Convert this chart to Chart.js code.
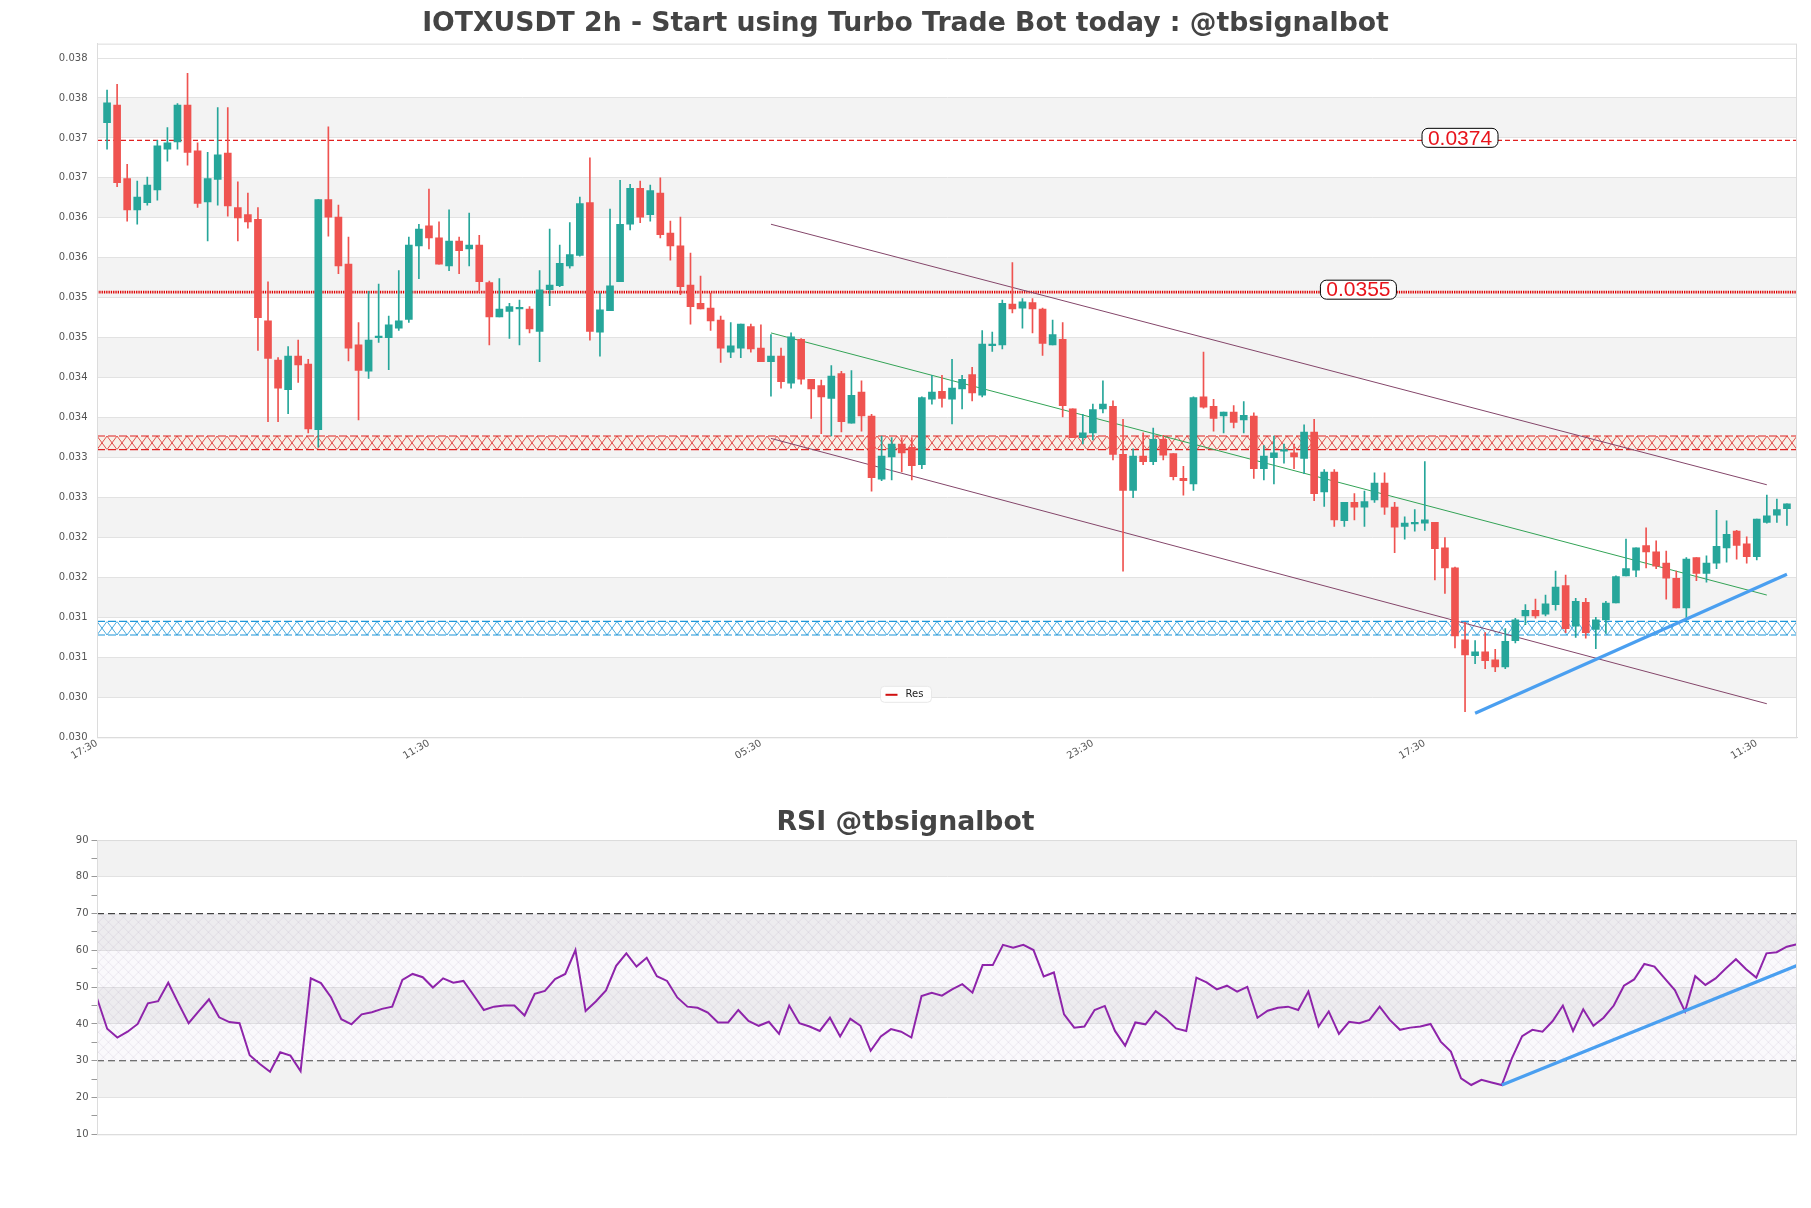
<!DOCTYPE html>
<html>
<head>
<meta charset="utf-8">
<script src="https://cdn.jsdelivr.net/npm/chart.js@4.4.1/dist/chart.umd.min.js"></script>
<style>
  html, body { margin: 0; padding: 0; background: #fff; }
  .box { position: absolute; left: 0; width: 1811px; }
</style>
</head>
<body>
<div class="box" style="top:0;height:790px"><canvas id="main" width="1811" height="790"></canvas></div>
<div class="box" style="top:790px;height:418px"><canvas id="rsi" width="1811" height="418"></canvas></div>
<script>
// time axis labels (every 33 candles of 2h)
var timeTicks = [0, 33, 66, 99, 132, 165];
var timeLabels = ['17:30', '11:30', '05:30', '23:30', '17:30', '11:30'];

// price axis ticks
var priceTicks = [0.02993, 0.03043, 0.03093, 0.03143, 0.03193, 0.03243, 0.03293, 0.03343, 0.03393,
  0.03443, 0.03493, 0.03543, 0.03593, 0.03643, 0.03693, 0.03743, 0.03793, 0.03843];

// OHLC, one entry per 2h candle
var openP = [0.03762,0.03784,0.03692,0.03653,0.03662,0.03678,0.03729,0.03738,0.03784,0.03727,
  0.03663,0.03691,0.03724,0.03656,0.03647,0.03641,0.03514,0.03465,0.03428,0.03470,
  0.03460,0.03378,0.03666,0.03644,0.03585,0.03484,0.03451,0.03493,0.03493,0.03505,
  0.03516,0.03608,0.03633,0.03618,0.03583,0.03614,0.03604,0.03609,0.03562,0.03519,
  0.03526,0.03529,0.03529,0.03501,0.03553,0.03558,0.03583,0.03596,0.03662,0.03500,
  0.03527,0.03563,0.03635,0.03680,0.03647,0.03674,0.03624,0.03608,0.03559,0.03536,
  0.03530,0.03515,0.03475,0.03480,0.03507,0.03480,0.03463,0.03470,0.03436,0.03491,
  0.03441,0.03433,0.03417,0.03448,0.03386,0.03425,0.03395,0.03316,0.03344,0.03360,
  0.03356,0.03334,0.03416,0.03426,0.03416,0.03429,0.03447,0.03421,0.03483,0.03484,
  0.03535,0.03530,0.03537,0.03529,0.03484,0.03491,0.03404,0.03368,0.03374,0.03404,
  0.03407,0.03347,0.03302,0.03345,0.03338,0.03366,0.03348,0.03317,0.03310,0.03419,
  0.03407,0.03395,0.03400,0.03390,0.03395,0.03329,0.03343,0.03351,0.03349,0.03342,
  0.03375,0.03300,0.03325,0.03264,0.03287,0.03281,0.03290,0.03311,0.03281,0.03257,
  0.03260,0.03261,0.03262,0.03230,0.03205,0.03115,0.03095,0.03100,0.03090,0.03081,
  0.03114,0.03145,0.03152,0.03147,0.03159,0.03183,0.03132,0.03162,0.03128,0.03140,
  0.03161,0.03195,0.03202,0.03233,0.03225,0.03211,0.03192,0.03155,0.03218,0.03198,
  0.03211,0.03230,0.03251,0.03235,0.03219,0.03262,0.03271,0.03279];
var highP = [0.03803,0.03810,0.03710,0.03689,0.03694,0.03740,0.03756,0.03786,0.03824,0.03737,
  0.03725,0.03781,0.03781,0.03688,0.03674,0.03656,0.03563,0.03468,0.03482,0.03490,
  0.03466,0.03666,0.03757,0.03659,0.03619,0.03512,0.03551,0.03560,0.03520,0.03577,
  0.03619,0.03635,0.03679,0.03638,0.03653,0.03619,0.03649,0.03621,0.03564,0.03567,
  0.03536,0.03540,0.03532,0.03577,0.03629,0.03609,0.03637,0.03669,0.03718,0.03549,
  0.03654,0.03690,0.03685,0.03689,0.03684,0.03693,0.03639,0.03644,0.03599,0.03570,
  0.03549,0.03520,0.03512,0.03510,0.03510,0.03509,0.03497,0.03480,0.03499,0.03492,
  0.03441,0.03440,0.03458,0.03451,0.03452,0.03439,0.03397,0.03370,0.03368,0.03368,
  0.03368,0.03419,0.03446,0.03446,0.03466,0.03446,0.03456,0.03502,0.03500,0.03540,
  0.03587,0.03542,0.03542,0.03530,0.03515,0.03512,0.03404,0.03397,0.03410,0.03439,
  0.03414,0.03391,0.03354,0.03374,0.03380,0.03371,0.03348,0.03332,0.03419,0.03475,
  0.03416,0.03400,0.03408,0.03413,0.03399,0.03358,0.03370,0.03360,0.03360,0.03384,
  0.03391,0.03328,0.03328,0.03287,0.03298,0.03301,0.03324,0.03324,0.03287,0.03269,
  0.03278,0.03338,0.03262,0.03243,0.03206,0.03137,0.03114,0.03124,0.03103,0.03129,
  0.03142,0.03159,0.03166,0.03171,0.03201,0.03196,0.03167,0.03167,0.03143,0.03163,
  0.03195,0.03241,0.03230,0.03255,0.03239,0.03226,0.03201,0.03218,0.03218,0.03220,
  0.03277,0.03264,0.03252,0.03244,0.03266,0.03296,0.03291,0.03285];
var lowP = [0.03729,0.03682,0.03639,0.03635,0.03659,0.03665,0.03714,0.03729,0.03709,0.03656,
  0.03614,0.03659,0.03645,0.03614,0.03630,0.03477,0.03388,0.03388,0.03398,0.03437,
  0.03374,0.03356,0.03620,0.03573,0.03464,0.03390,0.03442,0.03487,0.03453,0.03502,
  0.03512,0.03567,0.03604,0.03585,0.03577,0.03573,0.03583,0.03550,0.03484,0.03519,
  0.03492,0.03484,0.03499,0.03463,0.03533,0.03557,0.03580,0.03595,0.03490,0.03470,
  0.03527,0.03563,0.03628,0.03637,0.03639,0.03618,0.03590,0.03547,0.03510,0.03529,
  0.03502,0.03462,0.03468,0.03468,0.03475,0.03463,0.03420,0.03430,0.03430,0.03435,
  0.03392,0.03373,0.03370,0.03375,0.03386,0.03376,0.03301,0.03314,0.03315,0.03325,
  0.03315,0.03329,0.03410,0.03406,0.03385,0.03404,0.03414,0.03419,0.03476,0.03479,
  0.03524,0.03505,0.03499,0.03471,0.03484,0.03394,0.03368,0.03360,0.03365,0.03399,
  0.03340,0.03201,0.03293,0.03334,0.03334,0.03340,0.03315,0.03296,0.03302,0.03405,
  0.03376,0.03374,0.03380,0.03374,0.03317,0.03315,0.03310,0.03336,0.03329,0.03323,
  0.03289,0.03282,0.03257,0.03257,0.03265,0.03257,0.03287,0.03272,0.03224,0.03241,
  0.03251,0.03252,0.03190,0.03173,0.03105,0.03025,0.03085,0.03079,0.03075,0.03079,
  0.03111,0.03134,0.03142,0.03145,0.03152,0.03124,0.03118,0.03117,0.03104,0.03123,
  0.03161,0.03195,0.03194,0.03205,0.03204,0.03166,0.03155,0.03139,0.03189,0.03187,
  0.03204,0.03212,0.03216,0.03211,0.03215,0.03261,0.03262,0.03258];
var closeP = [0.03787,0.03687,0.03653,0.03669,0.03684,0.03733,0.03737,0.03784,0.03725,0.03661,
  0.03692,0.03722,0.03658,0.03643,0.03638,0.03518,0.03467,0.03430,0.03470,0.03459,
  0.03379,0.03666,0.03644,0.03583,0.03480,0.03452,0.03490,0.03495,0.03509,0.03514,
  0.03609,0.03629,0.03618,0.03585,0.03614,0.03602,0.03609,0.03563,0.03519,0.03529,
  0.03532,0.03531,0.03504,0.03553,0.03559,0.03586,0.03597,0.03661,0.03501,0.03528,
  0.03558,0.03635,0.03680,0.03644,0.03677,0.03622,0.03608,0.03557,0.03532,0.03529,
  0.03514,0.03480,0.03483,0.03510,0.03479,0.03463,0.03470,0.03438,0.03494,0.03441,
  0.03429,0.03419,0.03445,0.03388,0.03421,0.03395,0.03318,0.03345,0.03360,0.03349,
  0.03333,0.03418,0.03425,0.03417,0.03430,0.03441,0.03424,0.03485,0.03485,0.03536,
  0.03529,0.03538,0.03529,0.03486,0.03497,0.03408,0.03368,0.03374,0.03403,0.03410,
  0.03347,0.03302,0.03345,0.03338,0.03366,0.03346,0.03319,0.03314,0.03418,0.03406,
  0.03392,0.03400,0.03387,0.03396,0.03329,0.03345,0.03349,0.03353,0.03344,0.03375,
  0.03298,0.03325,0.03265,0.03287,0.03281,0.03288,0.03311,0.03281,0.03256,0.03261,
  0.03262,0.03265,0.03229,0.03205,0.03120,0.03096,0.03100,0.03089,0.03081,0.03113,
  0.03140,0.03152,0.03145,0.03160,0.03181,0.03129,0.03163,0.03124,0.03140,0.03161,
  0.03194,0.03204,0.03230,0.03225,0.03207,0.03192,0.03155,0.03216,0.03198,0.03211,
  0.03232,0.03247,0.03233,0.03219,0.03266,0.03270,0.03278,0.03285];

// horizontal levels and zones
var levelValues = [0.0374, 0.0355];
var levelLabelAt = [135.5, 125.4];
var resZone = [0.03353, 0.03370];
var supZone = [0.03121, 0.03138];

// drawn trend lines: [x, y] pairs in candle index / price
var channelUpper = [[67, 0.03635], [166, 0.03309]];
var channelLower = [[67, 0.03367], [166, 0.03035]];
var channelMid = [[67, 0.03499], [166, 0.03171]];
var supportLine = [[137, 0.03023], [168, 0.03197]];

// RSI, one value per candle
var rsiValues = [47.0,38.7,36.3,37.9,40.0,45.6,46.2,51.2,45.6,40.2,
  43.5,46.7,41.8,40.5,40.2,31.5,29.1,27.0,32.3,31.4,
  27.2,52.4,51.1,47.2,41.3,39.9,42.6,43.2,44.1,44.7,
  52.0,53.6,52.7,49.9,52.4,51.2,51.7,47.8,43.8,44.7,
  45.0,45.0,42.3,48.2,49.0,52.2,53.6,60.1,43.5,46.1,
  49.1,55.8,59.2,55.6,58.0,53.0,51.7,47.2,44.7,44.4,
  43.1,40.4,40.4,43.8,40.8,39.5,40.6,37.3,45.0,40.2,
  39.3,38.1,41.7,36.6,41.4,39.5,32.7,36.6,38.6,37.9,
  36.3,47.6,48.5,47.7,49.4,50.8,48.5,56.0,56.0,61.5,
  60.7,61.5,60.1,52.9,54.0,42.6,39.0,39.3,43.8,44.9,
  38.1,34.1,40.4,39.9,43.5,41.4,38.8,38.1,52.6,51.3,
  49.4,50.4,48.8,50.1,41.7,43.6,44.4,44.7,43.8,48.8,
  39.3,43.4,37.3,40.6,40.2,41.1,44.7,41.1,38.4,39.0,
  39.3,40.0,35.2,32.5,25.2,23.4,24.8,24.1,23.4,30.7,
  36.7,38.4,37.9,40.8,45.0,38.1,44.0,39.5,41.7,45.0,
  50.4,52.1,56.3,55.6,52.4,49.2,43.4,53.0,50.6,52.4,
  55.1,57.6,54.9,52.6,59.2,59.5,61.0,61.7];
var rsiTrend = [[138, 23.4], [167, 55.9]];
var rsiTicks = [10, 20, 30, 40, 50, 60, 70, 80, 90];

Chart.defaults.font.family = 'DejaVu Sans';
Chart.defaults.animation = false;

var UP = '#26a69a', DOWN = '#ef5350';
var candleColors = closeP.map(function (c, i) { return c >= openP[i] ? UP : DOWN; });

function pts(arr) { return arr.map(function (p) { return { x: p[0], y: p[1] }; }); }
function flat(v, x0, x1) { return [{ x: x0, y: v }, { x: x1, y: v }]; }

function lineSet(data, color, width, dash, order) {
  return { type: 'line', data: data, borderColor: color, borderWidth: width, borderDash: dash || [],
    pointRadius: 0, fill: false, tension: 0, order: order };
}

function roundRect(ctx, x, y, w, h, r) {
  ctx.beginPath();
  ctx.moveTo(x + r, y);
  ctx.arcTo(x + w, y, x + w, y + h, r);
  ctx.arcTo(x + w, y + h, x, y + h, r);
  ctx.arcTo(x, y + h, x, y, r);
  ctx.arcTo(x, y, x + w, y, r);
  ctx.closePath();
}

// chain of X marks inside a zone
function zoneHatch(ctx, l, t, r, b, w, color) {
  ctx.save();
  ctx.beginPath(); ctx.rect(l, t, r - l, b - t); ctx.clip();
  ctx.strokeStyle = color; ctx.lineWidth = 0.9;
  ctx.beginPath();
  for (var x = l; x < r; x += w) {
    ctx.moveTo(x, t); ctx.lineTo(x + w, b);
    ctx.moveTo(x + w, t); ctx.lineTo(x, b);
  }
  ctx.stroke();
  ctx.restore();
}

function crossHatch(ctx, l, t, r, b, step, color) {
  ctx.save();
  ctx.beginPath(); ctx.rect(l, t, r - l, b - t); ctx.clip();
  ctx.strokeStyle = color; ctx.lineWidth = 0.8;
  var h = b - t;
  ctx.beginPath();
  for (var x = l - h; x < r + h; x += step) {
    ctx.moveTo(x, t); ctx.lineTo(x + h, b);
    ctx.moveTo(x + h, t); ctx.lineTo(x, b);
  }
  ctx.stroke();
  ctx.restore();
}

function bands(chart, ticks, grey) {
  var ctx = chart.ctx, a = chart.chartArea, y = chart.scales.y;
  ctx.save();
  ctx.fillStyle = grey;
  for (var i = 0; i < ticks.length - 1; i++) {
    if (i % 2 === 1) {
      var t = y.getPixelForValue(ticks[i + 1]), b = y.getPixelForValue(ticks[i]);
      ctx.fillRect(a.left, t, a.right - a.left, b - t);
    }
  }
  ctx.restore();
}

function frame(chart) {
  var ctx = chart.ctx, a = chart.chartArea;
  ctx.save();
  ctx.strokeStyle = '#dcdcdc'; ctx.lineWidth = 1;
  ctx.strokeRect(a.left + 0.5, a.top + 0.5, a.right - a.left - 1, a.bottom - a.top);
  ctx.restore();
}

var mainDecor = {
  id: 'mainDecor',
  beforeDraw: function (chart) { bands(chart, priceTicks, '#f3f3f3'); },
  beforeDatasetsDraw: function (chart) {
    var ctx = chart.ctx, a = chart.chartArea, y = chart.scales.y;
    var rt = y.getPixelForValue(resZone[1]), rb = y.getPixelForValue(resZone[0]);
    ctx.save();
    ctx.fillStyle = 'rgba(255,236,210,0.35)';
    ctx.fillRect(a.left, rt, a.right - a.left, rb - rt);
    ctx.restore();
    zoneHatch(ctx, a.left, rt, a.right, rb, 10, 'rgba(222,40,40,0.9)');
    var st = y.getPixelForValue(supZone[1]), sb = y.getPixelForValue(supZone[0]);
    zoneHatch(ctx, a.left, st, a.right, sb, 10, 'rgba(30,150,216,0.9)');
  },
  afterDraw: function (chart) {
    var ctx = chart.ctx, x = chart.scales.x, y = chart.scales.y;
    frame(chart);
    ctx.save();
    ctx.font = '21px "Liberation Sans"';
    ctx.textAlign = 'center'; ctx.textBaseline = 'middle';
    levelValues.forEach(function (v, i) {
      var cx = x.getPixelForValue(levelLabelAt[i]), cy = y.getPixelForValue(v) - 2.5;
      roundRect(ctx, cx - 38, cy - 9.5, 76, 19, 6);
      ctx.fillStyle = '#fff'; ctx.fill();
      ctx.strokeStyle = '#000'; ctx.lineWidth = 1; ctx.stroke();
      ctx.fillStyle = '#e8141c';
      ctx.fillText(v.toFixed(4), cx, cy + 1);
    });
    // legend
    var lx = chart.width / 2 - 25, ly = chart.chartArea.bottom - 51;
    roundRect(ctx, lx, ly, 51, 16, 4);
    ctx.fillStyle = 'rgba(255,255,255,0.9)'; ctx.fill();
    ctx.strokeStyle = '#e8e8e8'; ctx.stroke();
    ctx.strokeStyle = '#d01010'; ctx.lineWidth = 2;
    ctx.beginPath(); ctx.moveTo(lx + 5, ly + 8.5); ctx.lineTo(lx + 17, ly + 8.5); ctx.stroke();
    ctx.fillStyle = '#222'; ctx.font = '10px "DejaVu Sans"'; ctx.textAlign = 'left';
    ctx.fillText('Res', lx + 25, ly + 8.5);
    ctx.restore();
  }
};

new Chart(document.getElementById('main'), {
  type: 'bar',
  data: {
    datasets: [
      lineSet(flat(levelValues[0], 0, 169), '#e02020', 1.2, [5, 3], 6),
      lineSet(flat(levelValues[1], 0, 169), '#dd0000', 2.6, [1.3, 1], 6),
      lineSet(flat(resZone[0], 0, 169), '#dd2222', 1.2, [8, 3], 6),
      lineSet(flat(resZone[1], 0, 169), '#dd2222', 1.2, [8, 3], 6),
      lineSet(flat(supZone[0], 0, 169), '#1e96d8', 1.2, [8, 3], 6),
      lineSet(flat(supZone[1], 0, 169), '#1e96d8', 1.2, [8, 3], 6),
      lineSet(pts(channelUpper), '#84466a', 1, [], 5),
      lineSet(pts(channelLower), '#84466a', 1, [], 5),
      lineSet(pts(channelMid), '#33a356', 1, [], 5),
      {
        type: 'bar', label: 'wick', order: 2, grouped: false, barThickness: 1,
        data: lowP.map(function (l, i) { return { x: i + 1, y: [l, highP[i]] }; }),
        backgroundColor: candleColors
      },
      {
        type: 'bar', label: 'body', order: 1, grouped: false, barThickness: 7, minBarLength: 1.5,
        data: openP.map(function (o, i) { return { x: i + 1, y: [o, closeP[i]] }; }),
        backgroundColor: candleColors
      },
      lineSet(pts(supportLine), '#4a9ff0', 3.2, [], 0)
    ]
  },
  options: {
    responsive: false,
    layout: { padding: { left: 14, right: 14, top: 0, bottom: 0 } },
    plugins: {
      legend: { display: false },
      tooltip: { enabled: false },
      title: {
        display: true, text: 'IOTXUSDT 2h - Start using Turbo Trade Bot today : @tbsignalbot',
        color: '#444', font: { family: 'DejaVu Sans', size: 26.7, weight: 'bold', lineHeight: 1.2 },
        padding: { top: 7.9, bottom: 3.7 }
      }
    },
    scales: {
      x: {
        type: 'linear', min: 0, max: 169, offset: false,
        afterBuildTicks: function (s) { s.ticks = timeTicks.map(function (v) { return { value: v }; }); },
        afterFit: function (s) { s.height = 52.7; },
        ticks: {
          autoSkip: false, minRotation: 30, maxRotation: 30, padding: -8, color: '#555',
          font: { size: 10 },
          callback: function (v) { var i = timeTicks.indexOf(v); return i < 0 ? '' : timeLabels[i]; }
        },
        grid: { display: false, offset: false },
        border: { color: '#dcdcdc' }
      },
      y: {
        min: 0.02993, max: 0.03861,
        afterBuildTicks: function (s) { s.ticks = priceTicks.map(function (v) { return { value: v }; }); },
        afterFit: function (s) { s.width = 83; },
        ticks: { padding: 9.5, color: '#555', font: { size: 10 },
          callback: function (v) { return v.toFixed(3); } },
        grid: { color: '#e2e2e2', drawTicks: false },
        border: { color: '#dcdcdc' }
      }
    }
  },
  plugins: [mainDecor]
});

var rsiDecor = {
  id: 'rsiDecor',
  beforeDraw: function (chart) { bands(chart, rsiTicks, '#f2f2f2'); },
  beforeDatasetsDraw: function (chart) {
    var ctx = chart.ctx, a = chart.chartArea, y = chart.scales.y;
    var t = y.getPixelForValue(70), b = y.getPixelForValue(30);
    ctx.save();
    ctx.fillStyle = 'rgba(190,170,215,0.07)';
    ctx.fillRect(a.left, t, a.right - a.left, b - t);
    ctx.restore();
    crossHatch(ctx, a.left, t, a.right, b, 10, 'rgba(150,130,170,0.18)');
  },
  afterDraw: function (chart) { frame(chart); }
};

new Chart(document.getElementById('rsi'), {
  type: 'line',
  data: {
    datasets: [
      lineSet(flat(70, 0, 167), '#444', 1.2, [7, 4], 3),
      lineSet(flat(30, 0, 167), '#444', 1.2, [7, 4], 3),
      lineSet(rsiValues.map(function (v, i) { return { x: i, y: v }; }), '#8e24aa', 2, [], 1),
      lineSet(pts(rsiTrend), '#4a9ff0', 3.4, [], 0)
    ]
  },
  options: {
    responsive: false,
    layout: { padding: { left: 14, right: 14, top: 0, bottom: 73.7 } },
    plugins: {
      legend: { display: false },
      tooltip: { enabled: false },
      title: {
        display: true, text: 'RSI @tbsignalbot', color: '#444',
        font: { family: 'DejaVu Sans', size: 26.7, weight: 'bold', lineHeight: 1.2 },
        padding: { top: 16.6, bottom: 1.4 }
      }
    },
    scales: {
      x: { type: 'linear', min: 0, max: 167, display: false },
      y: {
        min: 10, max: 90,
        afterFit: function (s) { s.width = 83; },
        ticks: { stepSize: 5, padding: 3, color: '#555', font: { size: 10 },
          callback: function (v) { return v % 10 === 0 ? v : ''; } },
        grid: {
          tickLength: 5.5, tickColor: '#999',
          color: function (c) {
            var v = c.tick ? c.tick.value : 0;
            return (v % 10 === 0 && v !== 30 && v !== 70) ? '#e2e2e2' : 'rgba(0,0,0,0)';
          }
        },
        border: { color: '#dcdcdc' }
      }
    }
  },
  plugins: [rsiDecor]
});
</script>
</body>
</html>
